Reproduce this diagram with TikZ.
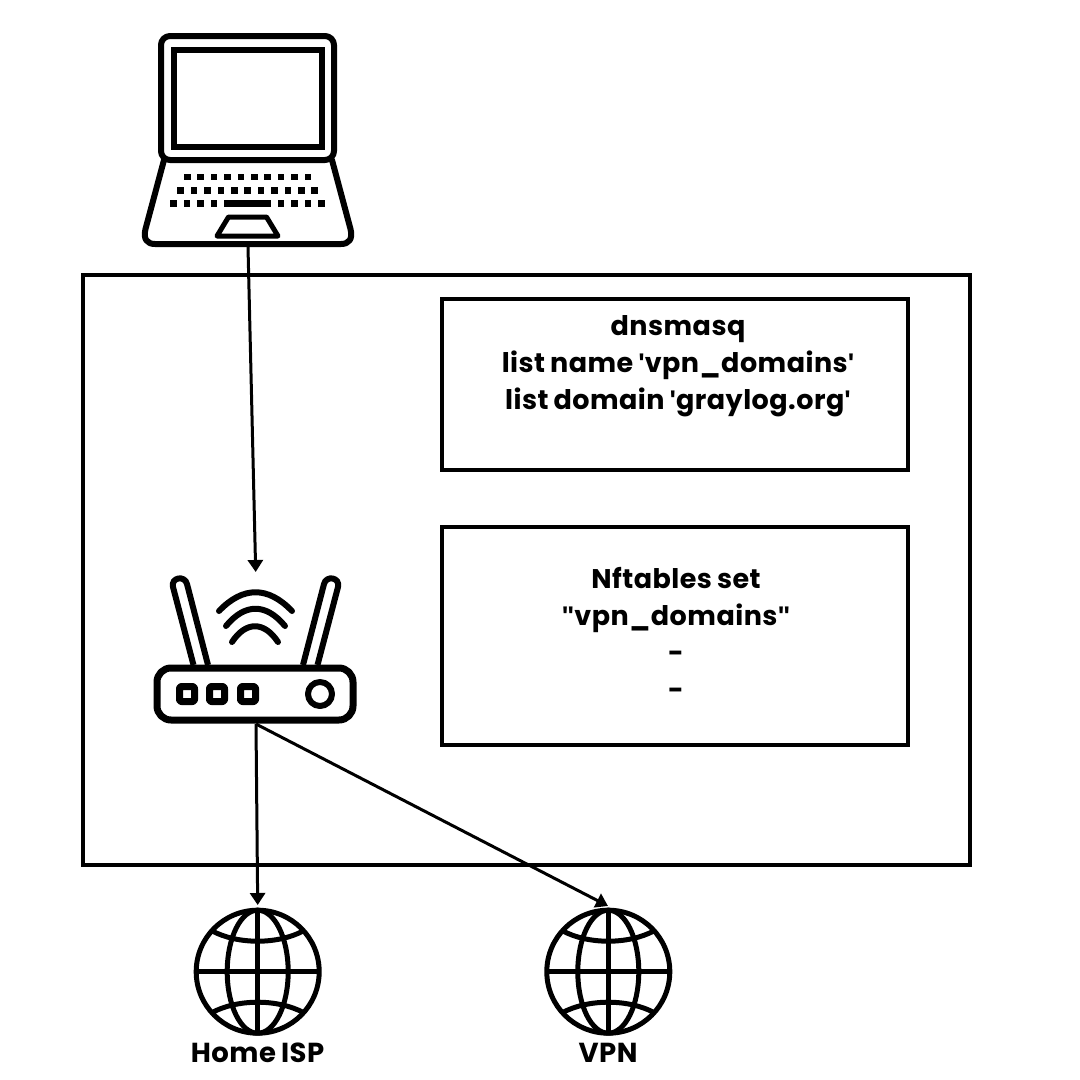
\documentclass[tikz,border=0pt]{standalone}
\usepackage{fontspec}
\setmainfont[WordSpace=0.8,LetterSpace=1.8,BoldFont={Poppins Bold}]{Poppins}
\newfontfamily\quotefont{Liberation Sans Bold}
\usetikzlibrary{arrows.meta}
\tikzset{
  frame/.style={draw=black,line width=3.4pt,fill=none},
  icon/.style={draw=black,line width=6pt,line join=round,line cap=round},
  thin icon/.style={draw=black,line width=5pt,line cap=round},
  keycap/.style={fill=black},
  link/.style={draw=black,line width=3pt,-{Triangle[length=12pt,width=15pt]}},
  boxtext/.style={align=center,font=\fontsize{27}{37}\selectfont\bfseries,inner sep=0pt,text=black},
  lbl/.style={font=\fontsize{27.5}{32}\selectfont\bfseries,inner sep=0pt,text=black}
}
\newcommand{\globeicon}[1]{%
  \begin{scope}[shift={(#1)}]
    \draw[thin icon] (0,0) circle (61.5);
    \draw[thin icon] (0,0) ellipse (30.5 and 61.5);
    \draw[thin icon,line cap=butt] (0,-61.5) -- (0,61.5);
    \draw[thin icon,line cap=butt] (-61.5,0) -- (61.5,0);
    \draw[thin icon,line cap=butt] (-46,-41) .. controls (-20,-27) and (20,-27) .. (46,-41);
    \draw[thin icon,line cap=butt] (-46,41) .. controls (-20,27) and (20,27) .. (46,41);
  \end{scope}}
\newcommand{\sq}{{\quotefont\symbol{39}}}
\newcommand{\dq}{{\quotefont\symbol{34}}}
\begin{document}
\begin{tikzpicture}[x=1pt,y=-1pt]
\useasboundingbox (0,0) rectangle (1080,1080);
\fill[white] (0,0) rectangle (1080,1080);
% boxes
\node[frame,minimum width=887pt,minimum height=590pt,inner sep=0pt] (outer) at (526.5,570) {};
\node[frame,minimum width=466pt,minimum height=171pt,inner sep=0pt] (dnsbox) at (675,384.5) {};
\node[frame,minimum width=466pt,minimum height=218pt,inner sep=0pt] (nftbox) at (675,636) {};
\node[boxtext,anchor=center] (dnstext) at (678,366.5) {dnsmasq\\list name \sq vpn\_domains\sq\\list domain \sq graylog.org\sq};
\node[boxtext,anchor=center] (nfttext) at (676,633) {Nftables set\\\dq vpn\_domains\dq\\-\\-};
% laptop
\draw[icon,rounded corners=9pt] (161,36) rectangle (334,160);
\draw[icon,line join=miter] (174,50) rectangle (322,147);
\draw[icon] (164,160) -- (145.5,229) .. controls (143,239) and (147,244) .. (155,244) -- (341,244) .. controls (349,244) and (353,239) .. (350.5,229) -- (332,160);
\foreach \i in {0,...,9} \fill[keycap] ({187.3+13.4*\i-3.3},173.7) rectangle +(6.6,6.6);
\foreach \i in {0,...,10} \fill[keycap] ({180.7+13.4*\i-3.3},187) rectangle +(6.6,6.6);
\foreach \x in {173.7,187,200.7,214,281,294.7,308,321.3} \fill[keycap] ({\x-3.3},200.3) rectangle +(6.6,6.6);
\fill[keycap] (224.3,200.3) rectangle (271,206.9);
\draw[thin icon,line join=round] (228.5,217) -- (266.5,217) -- (278,236) -- (217,236) -- cycle;
\coordinate (laptopout) at (248,247);
% router
\foreach \m in {0,1}{
  \begin{scope}[xscale={1-2*\m},xshift={-511*\m}]
  \draw[thin icon,line width=6pt,line cap=butt] (193.5,665) -- (173,587) .. controls (170.6,577.7) and (184.6,574.7) .. (187,584) -- (208,665);
  \end{scope}}
\draw[icon,line width=7pt,rounded corners=14pt,fill=white] (157,668) rectangle (353,720);
\foreach \x in {187,217,248} \draw[icon,line width=7pt,rounded corners=2pt] (\x-7.5,686.5) rectangle (\x+7.5,701.5);
\draw[icon] (320,694) circle (12);
\draw[icon] (219,611) .. controls (243,586) and (268,586) .. (292,611);
\draw[icon] (226,626) .. controls (245,603) and (266,603) .. (285,626);
\draw[icon] (232,642) .. controls (246,621) and (264,621) .. (278,642);
\coordinate (routerin) at (255.7,572);
\coordinate (routerout) at (256,724);
% globes
\globeicon{257.7,971.7}
\globeicon{608.3,971.7}
\coordinate (ispin) at (257.7,905);
\coordinate (vpnin) at (608,906);
\node[lbl] (isp) at (257.5,1053) {Home ISP};
\node[lbl] (vpn) at (608,1053) {VPN};
% connectors
\draw[link] (laptopout) -- (routerin);
\draw[link] (routerout) -- (ispin);
\draw[link] (routerout) -- (vpnin);
\end{tikzpicture}
\end{document}
